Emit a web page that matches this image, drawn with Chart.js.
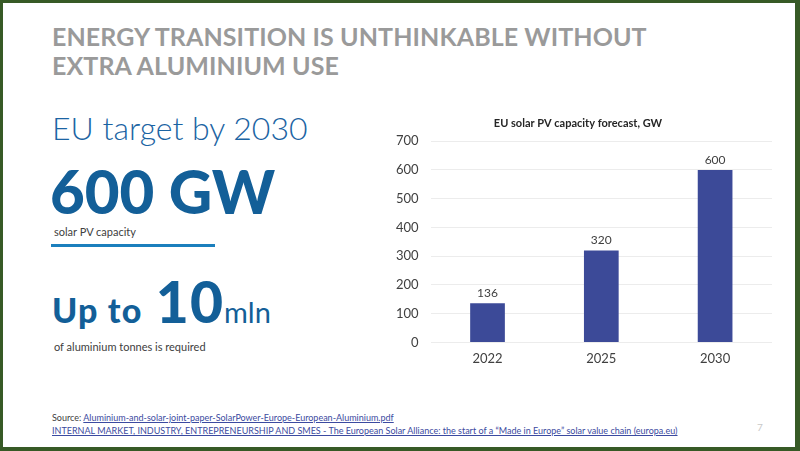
<!DOCTYPE html>
<html>
<head>
<meta charset="utf-8">
<script src="https://cdn.jsdelivr.net/npm/chart.js@4"></script>
<style>
  html,body{margin:0;padding:0;}
  body{width:800px;height:451px;overflow:hidden;background:#fff;position:relative;font-family:"Lato","Open Sans",sans-serif;}
  .frame{position:absolute;left:0;top:0;width:800px;height:451px;box-sizing:border-box;border:solid #375a26;border-width:3px 5px 4px 3px;}
  .t{position:absolute;white-space:nowrap;}
  #title{left:52px;top:22px;font-family:"Lato";font-weight:700;font-size:25px;line-height:29px;color:#9a9a9a;letter-spacing:0.1px;}
  #target{left:52px;top:108px;font-family:"Lato";font-weight:300;font-size:32px;color:#1b64a3;}
  #gw{left:50px;top:155px;font-family:"Lato";font-weight:900;font-size:60px;color:#135f98;}
  #sub1{left:54px;top:225px;font-size:11px;color:#404040;}
  #rule{position:absolute;left:51px;top:244px;width:164px;height:3px;background:#1b7fbd;}
  #upto{left:52px;top:267px;font-family:"Lato";font-weight:900;color:#135f98;}
  #sub2{left:54px;top:340px;font-size:11px;color:#404040;}
  #src{left:52px;top:411px;font-size:9px;line-height:13px;color:#404040;}
  #src a{color:#3b4aa0;text-decoration:underline;}
  #pg{left:757px;top:421px;font-size:10px;color:#c8c8c8;}
  #wrap{position:absolute;left:384px;top:108px;width:405px;height:268px;}
</style>
</head>
<body>
<div class="frame"></div>
<div class="t" id="title">ENERGY TRANSITION IS UNTHINKABLE WITHOUT<br>EXTRA ALUMINIUM USE</div>
<div class="t" id="target">EU target by 2030</div>
<div class="t" id="gw">600 GW</div>
<div class="t" id="sub1">solar PV capacity</div>
<div id="rule"></div>
<div class="t" id="upto"><span style="font-size:34px;letter-spacing:1.2px">Up to </span><span style="font-size:57px;letter-spacing:1px;margin-left:4px">10</span><span style="font-size:29px;font-weight:400">mln</span></div>
<div class="t" id="sub2">of aluminium tonnes is required</div>
<div class="t" id="src">Source: <a>Aluminium-and-solar-joint-paper-SolarPower-Europe-European-Aluminium.pdf</a><br><a>INTERNAL MARKET, INDUSTRY, ENTREPRENEURSHIP AND SMES - The European Solar Alliance: the start of a “Made in Europe” solar value chain (europa.eu)</a></div>
<div class="t" id="pg">7</div>
<div id="wrap"><canvas id="c"></canvas></div>
<script>
const categories = ["2022", "2025", "2030"];
const capacityGW = [136, 320, 600];
const yTicks = [0, 100, 200, 300, 400, 500, 600, 700];
const chartTitle = "EU solar PV capacity forecast, GW";

const valueLabels = {
  id: 'valueLabels',
  afterDatasetsDraw(chart) {
    const ctx = chart.ctx;
    const meta = chart.getDatasetMeta(0);
    ctx.save();
    ctx.font = '12px Lato';
    ctx.fillStyle = '#404040';
    ctx.textAlign = 'center';
    ctx.textBaseline = 'bottom';
    meta.data.forEach((bar, i) => {
      ctx.fillText(String(chart.data.datasets[0].data[i]), bar.x, bar.y - 4);
    });
    ctx.restore();
  }
};

new Chart(document.getElementById('c'), {
  type: 'bar',
  data: {
    labels: categories,
    datasets: [{
      data: capacityGW,
      backgroundColor: '#3c4a98',
      barPercentage: 0.5,
      categoryPercentage: 0.61
    }]
  },
  options: {
    responsive: true,
    maintainAspectRatio: false,
    animation: false,
    layout: { padding: { left: 0, right: 17, top: 0, bottom: 0 } },
    plugins: {
      legend: { display: false },
      tooltip: { enabled: false },
      title: {
        display: true,
        text: chartTitle,
        color: '#262626',
        font: { family: 'Lato', size: 11, weight: 'bold' },
        padding: { top: 9, bottom: 11 }
      }
    },
    scales: {
      x: {
        grid: { display: false, drawTicks: false },
        border: { display: false },
        ticks: { color: '#404040', font: { family: 'Lato', size: 13 }, padding: 9 }
      },
      y: {
        min: 0, max: 700,
        afterBuildTicks(axis) { axis.ticks = yTicks.map(v => ({ value: v })); },
        grid: { color: '#ececec', drawTicks: false },
        border: { display: false },
        ticks: { color: '#404040', font: { family: 'Lato', size: 13 }, padding: 12 }
      }
    }
  },
  plugins: [valueLabels]
});
</script>
</body>
</html>
